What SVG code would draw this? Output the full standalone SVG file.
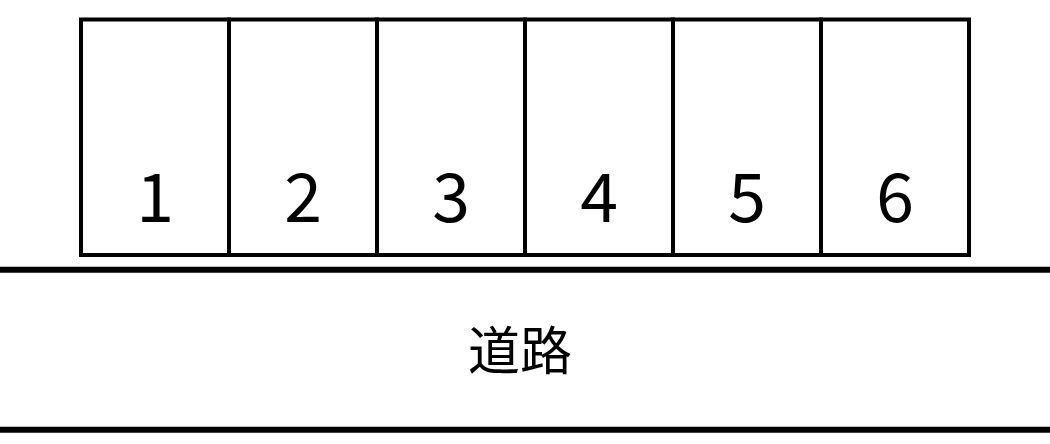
<svg xmlns="http://www.w3.org/2000/svg" width="1050" height="444" viewBox="0 0 1050 444">
<style>
.cell{fill:#fff;stroke:#000;stroke-width:4}
.num{font-family:"Noto Sans CJK JP","Noto Sans",sans-serif;font-size:68px;text-anchor:middle;fill:#000}
.road{stroke:#000;stroke-width:6}
.lbl{font-family:"Noto Sans CJK JP",sans-serif;font-size:52px;text-anchor:middle;fill:#000}
</style>
<rect width="1050" height="444" fill="#fff"/>
<g id="slot1"><rect class="cell" x="81" y="19.5" width="148" height="235.5"/><text class="num" x="155" y="222">1</text></g>
<g id="slot2"><rect class="cell" x="229" y="19.5" width="148" height="235.5"/><text class="num" x="303" y="222">2</text></g>
<g id="slot3"><rect class="cell" x="377" y="19.5" width="148" height="235.5"/><text class="num" x="451" y="222">3</text></g>
<g id="slot4"><rect class="cell" x="525" y="19.5" width="148" height="235.5"/><text class="num" x="599" y="222">4</text></g>
<g id="slot5"><rect class="cell" x="673" y="19.5" width="148" height="235.5"/><text class="num" x="747" y="222">5</text></g>
<g id="slot6"><rect class="cell" x="821" y="19.5" width="148" height="235.5"/><text class="num" x="895" y="222">6</text></g>
<g id="road">
<line class="road" x1="0" y1="269.7" x2="1050" y2="269.7"/>
<line class="road" x1="0" y1="429.7" x2="1050" y2="429.7"/>
<text class="lbl" x="520" y="370">道路</text>
</g>
</svg>
